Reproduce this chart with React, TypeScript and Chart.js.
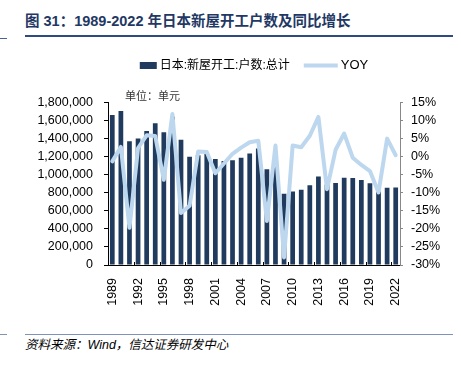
import React, { useEffect, useRef } from "react";
import { Chart, registerables } from "chart.js";

Chart.register(...registerables);

const years = [
  "1989", "1990", "1991", "1992", "1993", "1994", "1995", "1996", "1997", "1998",
  "1999", "2000", "2001", "2002", "2003", "2004", "2005", "2006", "2007", "2008",
  "2009", "2010", "2011", "2012", "2013", "2014", "2015", "2016", "2017", "2018",
  "2019", "2020", "2021", "2022",
];

const housingStarts = [
  1662612, 1707109, 1370126, 1402590, 1485684, 1570252, 1470330, 1643266, 1387014, 1198295,
  1214601, 1229843, 1173170, 1151016, 1160083, 1189049, 1236175, 1290391, 1060741, 1093519,
  788410, 813126, 834117, 882797, 980025, 892261, 909299, 967237, 964641, 942370,
  905123, 815340, 856484, 859529,
];

const yoyPct = [
  -1.3, 2.7, -19.7, 2.4, 5.9, 5.7, -6.4, 11.8, -15.6, -13.6,
  1.4, 1.3, -4.6, -1.9, 0.8, 2.5, 4.0, 4.4, -17.8, 3.1,
  -27.9, 3.1, 2.6, 5.8, 11.0, -9.0, 1.9, 6.4, -0.3, -2.3,
  -4.0, -9.9, 5.0, 0.4,
];

const barLabel = "日本:新屋开工:户数:总计";
const lineLabel = "YOY";
const unitText = "单位：单元";
const titleText = "图 31：1989-2022 年日本新屋开工户数及同比增长";
const sourceText = "资料来源：Wind，信达证券研发中心";

const BAR_COLOR = "#213B5F";
const LINE_COLOR = "#BDD7EE";
const FONT = "'Liberation Sans', Arial, 'Noto Sans CJK SC', sans-serif";

const extrasPlugin = {
  id: "extras",
  afterDatasetsDraw(chart: any) {
    const { ctx, chartArea, scales } = chart;
    const x = scales.x;
    ctx.save();
    ctx.strokeStyle = "#000";
    ctx.lineWidth = 1;
    for (let i = 3; i < years.length; i += 3) {
      const px = Math.round((x.getPixelForValue(i - 1) + x.getPixelForValue(i)) / 2) + 0.5;
      ctx.beginPath();
      ctx.moveTo(px, chartArea.bottom);
      ctx.lineTo(px, chartArea.bottom - 3);
      ctx.stroke();
    }
    ctx.restore();
  },
  afterDraw(chart: any) {
    const { ctx, chartArea } = chart;
    ctx.save();
    // unit text
    ctx.font = `11px ${FONT}`;
    ctx.fillStyle = "#333";
    ctx.textBaseline = "middle";
    ctx.textAlign = "left";
    ctx.fillText(unitText, chartArea.left + 17, chartArea.top - 6);

    // legend
    const ly = chartArea.top - 37;
    ctx.font = `12px ${FONT}`;
    const w1 = ctx.measureText(barLabel).width;
    ctx.font = `13px ${FONT}`;
    const w2 = ctx.measureText(lineLabel).width;
    const boxW = 17, boxH = 7, gapT = 3, gapItem = 14, lineW = 34;
    const total = boxW + gapT + w1 + gapItem + lineW + gapT + w2;
    let cx = (chartArea.left + chartArea.right) / 2 - total / 2;
    ctx.fillStyle = BAR_COLOR;
    ctx.fillRect(cx, ly - boxH / 2, boxW, boxH);
    cx += boxW + gapT;
    ctx.fillStyle = "#000";
    ctx.font = `12px ${FONT}`;
    ctx.fillText(barLabel, cx, ly);
    cx += w1 + gapItem;
    ctx.strokeStyle = LINE_COLOR;
    ctx.lineWidth = 4;
    ctx.beginPath();
    ctx.moveTo(cx, ly);
    ctx.lineTo(cx + lineW, ly);
    ctx.stroke();
    cx += lineW + gapT;
    ctx.font = `13px ${FONT}`;
    ctx.fillText(lineLabel, cx, ly);
    ctx.restore();
  },
};

function ChartBox() {
  const ref = useRef<HTMLCanvasElement | null>(null);
  useEffect(() => {
    if (!ref.current) return;
    const chart = new Chart(ref.current, {
      type: "bar",
      data: {
        labels: years,
        datasets: [
          {
            type: "bar",
            label: barLabel,
            data: housingStarts,
            backgroundColor: BAR_COLOR,
            barPercentage: 0.55,
            categoryPercentage: 1,
            yAxisID: "y",
            order: 2,
          },
          {
            type: "line",
            label: lineLabel,
            data: yoyPct,
            borderColor: LINE_COLOR,
            backgroundColor: LINE_COLOR,
            borderWidth: 4,
            pointRadius: 0,
            tension: 0,
            borderJoinStyle: "round",
            borderCapStyle: "round",
            yAxisID: "y1",
            order: 1,
          },
        ],
      } as any,
      options: {
        animation: false,
        responsive: false,
        devicePixelRatio: 1,
        layout: { padding: { top: 62.5, left: 0, right: 0, bottom: 0 } },
        plugins: {
          legend: { display: false },
          tooltip: { enabled: false },
        },
        scales: {
          x: {
            grid: { display: false },
            border: { display: true, color: "#000", width: 1 },
            ticks: {
              autoSkip: false,
              minRotation: 90,
              maxRotation: 90,
              padding: 5,
              color: "#000",
              font: { size: 12.5, family: FONT },
              callback: (_v: any, i: number) => (i % 3 === 0 ? years[i] : ""),
            },
            afterFit: (s: any) => {
              s.height = 55;
            },
          },
          y: {
            position: "left",
            min: 0,
            max: 1800000,
            grid: { drawOnChartArea: false, drawTicks: true, tickLength: 4, color: "#000" },
            border: { display: true, color: "#000", width: 1 },
            ticks: {
              stepSize: 200000,
              padding: 11,
              color: "#000",
              font: { size: 12.5, family: FONT },
              callback: (v: any) => Number(v).toLocaleString("en-US"),
            },
            afterFit: (s: any) => {
              s.width = 108;
            },
          },
          y1: {
            position: "right",
            min: -30,
            max: 15,
            grid: { drawOnChartArea: false, drawTicks: true, tickLength: 3, color: "#888" },
            border: { display: true, color: "#888", width: 1 },
            ticks: {
              stepSize: 5,
              padding: 8,
              color: "#000",
              font: { size: 12.5, family: FONT },
              callback: (v: any) => `${v}%`,
            },
            afterFit: (s: any) => {
              s.width = 61;
            },
          },
        },
      } as any,
      plugins: [extrasPlugin],
    });
    return () => chart.destroy();
  }, []);
  return (
    <canvas
      ref={ref}
      width={461}
      height={280}
      style={{ position: "absolute", left: 0, top: 40, width: 461, height: 280 }}
    />
  );
}

export default function App() {
  return (
    <div
      style={{
        position: "absolute",
        left: 0,
        top: 0,
        width: 461,
        height: 365,
        background: "#fff",
        overflow: "hidden",
        fontFamily: FONT,
      }}
    >
      <div
        style={{
          position: "absolute",
          left: 25,
          top: 12,
          fontSize: 14.5,
          fontWeight: "bold",
          color: "#1F3864",
          whiteSpace: "nowrap",
          lineHeight: "18px",
        }}
      >
        {titleText}
      </div>
      <div style={{ position: "absolute", left: 0, top: 38, width: 7, height: 1, background: "#4A6290" }} />
      <div style={{ position: "absolute", left: 25, top: 35, width: 428, height: 1.5, background: "#2F4A7F" }} />
      <ChartBox />
      <div style={{ position: "absolute", left: 0, top: 334, width: 7, height: 1, background: "#7F93B8" }} />
      <div style={{ position: "absolute", left: 25, top: 334, width: 428, height: 1, background: "#7F93B8" }} />
      <div
        style={{
          position: "absolute",
          left: 25,
          top: 337,
          fontSize: 12.5,
          fontStyle: "italic",
          color: "#000",
          whiteSpace: "nowrap",
          lineHeight: "16px",
        }}
      >
        {sourceText}
      </div>
    </div>
  );
}
